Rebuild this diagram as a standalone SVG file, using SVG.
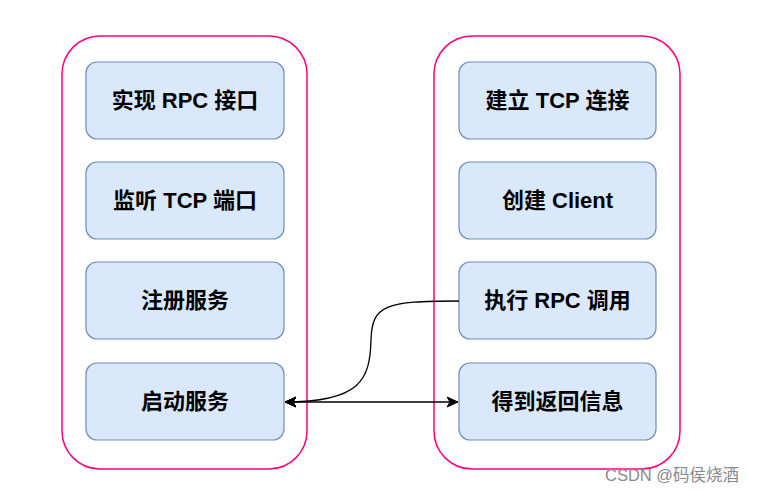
<svg xmlns="http://www.w3.org/2000/svg" width="757" height="491" viewBox="0 0 757 491">
<defs>
<style>
.cont{fill:#ffffff;stroke:#ff0080;stroke-width:1.5}
.box{fill:#dae8fc;stroke:#6c8ebf;stroke-width:1.2}
.lbl{font-family:"Liberation Sans","Noto Sans CJK SC",sans-serif;font-size:22px;font-weight:bold;fill:#000;text-anchor:middle}
.edge{fill:none;stroke:#000;stroke-width:1.3}
.wm{font-family:"Liberation Sans","Noto Sans CJK SC",sans-serif;font-size:16.5px;fill:#8a8a8a}
</style>
<marker id="arr" viewBox="0 0 12 12" refX="11" refY="6" markerWidth="12" markerHeight="12" markerUnits="userSpaceOnUse" orient="auto-start-reverse">
<path d="M0,1 L11,6 L0,11 L3,6 Z" fill="#000" stroke="#000" stroke-width="1"/>
</marker>
</defs>
<rect width="757" height="491" fill="#ffffff"/>
<g id="server">
<rect class="cont" x="62" y="36" width="245" height="433" rx="38"/>
</g>
<g id="client">
<rect class="cont" x="434" y="36" width="246" height="433" rx="38"/>
</g>
<g id="s1"><rect class="box" x="86" y="62" width="198" height="77" rx="11"/><text class="lbl" x="185" y="108">实现 RPC 接口</text></g>
<g id="s2"><rect class="box" x="86" y="162" width="198" height="77" rx="11"/><text class="lbl" x="185" y="208">监听 TCP 端口</text></g>
<g id="s3"><rect class="box" x="86" y="262" width="198" height="77" rx="11"/><text class="lbl" x="185" y="308">注册服务</text></g>
<g id="s4"><rect class="box" x="86" y="363" width="198" height="77" rx="11"/><text class="lbl" x="185" y="409">启动服务</text></g>
<g id="c1"><rect class="box" x="459" y="62" width="197" height="77" rx="11"/><text class="lbl" x="557.5" y="108">建立 TCP 连接</text></g>
<g id="c2"><rect class="box" x="459" y="162" width="197" height="77" rx="11"/><text class="lbl" x="557.5" y="208">创建 Client</text></g>
<g id="c3"><rect class="box" x="459" y="262" width="197" height="77" rx="11"/><text class="lbl" x="557.5" y="308">执行 RPC 调用</text></g>
<g id="c4"><rect class="box" x="459" y="363" width="197" height="77" rx="11"/><text class="lbl" x="557.5" y="409">得到返回信息</text></g>
<g id="connectors">
<path class="edge" d="M459,301 C385,301 372,305 371,340 C370,380 360,402 285,402" marker-end="url(#arr)"/>
<path class="edge" d="M285,402 L458,402" marker-start="url(#arr)" marker-end="url(#arr)"/>
</g>
<text class="wm" x="605" y="481">CSDN @码侯烧酒</text>
</svg>
